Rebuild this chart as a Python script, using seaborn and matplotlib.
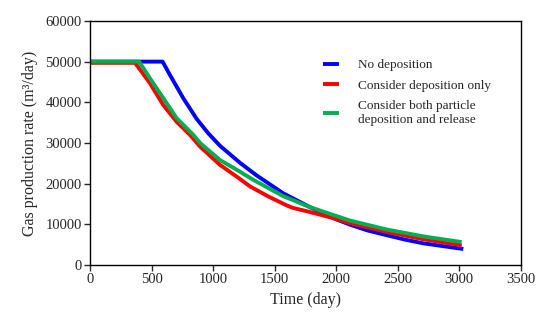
import numpy as np
import pandas as pd
import matplotlib
matplotlib.use("Agg")
import matplotlib.pyplot as plt
import seaborn as sns

# Data
days_no = [0, 590, 650, 758, 867, 960, 1056, 1219, 1354, 1570, 1800, 2000, 2112, 2250,
           2410, 2560, 2708, 2870, 3033]
rate_no = [50000, 50000, 46700, 41000, 35900, 32400, 29300, 25100, 22000, 17600, 14000,
           11200, 9900, 8500, 7300, 6200, 5300, 4600, 3900]

days_dep = [0, 366, 487, 596, 704, 812, 894, 1056, 1192, 1300, 1450, 1600, 1650, 1787,
            1950, 2112, 2410, 2708, 3020]
rate_dep = [49700, 49700, 44700, 39300, 35200, 32000, 29100, 24600, 21700, 19300, 16800,
            14600, 14000, 13000, 11700, 10250, 8100, 6300, 4800]

days_both = [0, 400, 487, 596, 704, 839, 894, 1056, 1219, 1327, 1570, 1787, 2112, 2410,
             2708, 3019]
rate_both = [50000, 50000, 45900, 41000, 36100, 32000, 30000, 25800, 22900, 20900, 16900,
             14200, 10900, 8700, 7000, 5600]

labels = ["No deposition", "Consider deposition only",
          "Consider both particle\ndeposition and release"]
colors = ["#0000FF", "#FF0000", "#00B050"]

df = pd.concat([
    pd.DataFrame({"day": days_no, "rate": rate_no, "case": labels[0]}),
    pd.DataFrame({"day": days_dep, "rate": rate_dep, "case": labels[1]}),
    pd.DataFrame({"day": days_both, "rate": rate_both, "case": labels[2]}),
])

sns.set_style("ticks")
plt.rcParams["font.family"] = ["Liberation Serif", "DejaVu Serif"]

fig = plt.figure(figsize=(5.5, 3.23), dpi=100)
ax = fig.add_axes([0.1636, 0.180, 0.947 - 0.1636, 0.935 - 0.180])

sns.lineplot(data=df, x="day", y="rate", hue="case", palette=colors,
             hue_order=labels, linewidth=2.8, ax=ax, sort=False, estimator=None)
for ln in ax.get_lines():
    ln.set_solid_joinstyle("round")
    ln.set_solid_capstyle("butt")

ax.set_xlim(0, 3500)
ax.set_ylim(0, 60000)
ax.set_xticks(np.arange(0, 3501, 500))
ax.set_yticks(np.arange(0, 60001, 10000))
ax.tick_params(axis="both", direction="out", length=4, width=1, labelsize=10.5, pad=2)
for s in ax.spines.values():
    s.set_linewidth(1)
    s.set_color("black")
ax.set_xlabel("Time (day)", fontsize=11.5, labelpad=4)
ax.set_ylabel("Gas production rate (m³/day)", fontsize=11.5, labelpad=5)

leg = ax.legend(loc="upper left", bbox_to_anchor=(0.514, 0.893), frameon=False,
                fontsize=9.5, handlelength=1.2, handletextpad=1.45, labelspacing=0.62)
for line in leg.get_lines():
    line.set_linewidth(2.8)
for t in leg.get_texts():
    t.set_linespacing(1.3)

fig.savefig("out.png", dpi=100)
